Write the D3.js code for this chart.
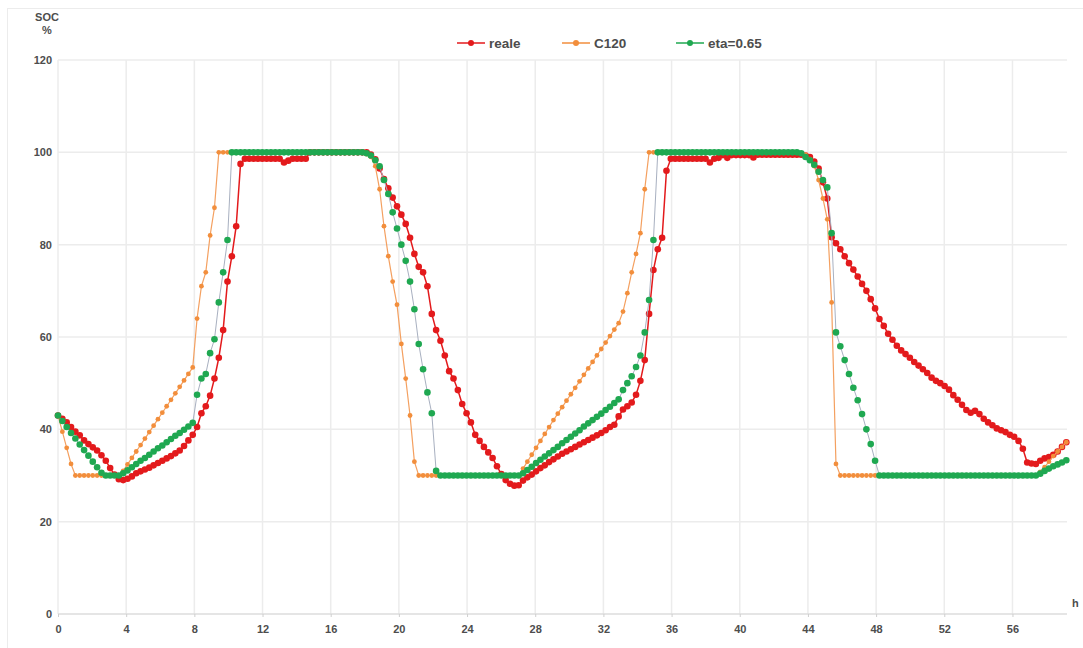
<!DOCTYPE html>
<html><head><meta charset="utf-8">
<script src="https://cdn.jsdelivr.net/npm/d3@7"></script>
<style>html,body{margin:0;padding:0;background:#fff;}svg{display:block;}</style>
</head><body>
<svg id="chart" width="1083" height="648"></svg>
<script>
// sampling interval of the readings (hours)
const stepHours = 0.255;
const xTickLabels = [0, 4, 8, 12, 16, 20, 24, 28, 32, 36, 40, 44, 48, 52, 56];
const yTickLabels = [0, 20, 40, 60, 80, 100, 120];
const seriesNames = ["reale", "C120", "eta=0.65"];

const reale = [
  43, 42.3, 41.5, 40.5, 39.5, 38.7, 37.6, 36.8, 36.1, 35.4, 34.4, 33.2, 31.6, 30.2, 29.2, 29.0,
  29.3, 29.8, 30.5, 30.9, 31.3, 31.7, 32.2, 32.7, 33.2, 33.7, 34.2, 34.8, 35.4, 36.4, 37.6, 38.8,
  40.5, 43.5, 45, 47.3, 51, 55.5, 61.5, 72, 77.5, 84, 97.5, 98.6, 98.6, 98.6, 98.6, 98.6,
  98.6, 98.6, 98.6, 98.6, 97.8, 98.2, 98.6, 98.6, 98.6, 98.6, 100, 100, 100, 100, 100, 100,
  100, 100, 100, 100, 100, 100, 100, 100, 99.5, 98.5, 96.5, 94.2, 92.2, 90.2, 88.3, 86.5,
  84.5, 81.5, 78, 75.2, 74, 71, 65, 61.5, 59.2, 56, 52.6, 51, 48.5, 45.5, 43.5, 41.5,
  38.8, 37.5, 36.2, 35, 33.8, 32, 30.3, 29, 28.2, 27.8, 27.9,
  28.9, 29.6, 30.2, 30.9, 31.6, 32.2, 32.9, 33.5, 34.1, 34.7, 35.2, 35.7, 36.2, 36.7, 37.2, 37.7,
  38.2, 38.7, 39.2, 39.8, 40.5, 41,
  42.8, 44.3, 45, 45.8, 47.5, 50.5, 55, 65, 74.5, 79, 81.5, 96, 98.6, 98.6,
  98.6, 98.6, 98.6, 98.6, 98.6, 98.6, 98.6, 97.8, 98.6, 98.8, 99.4, 98.8, 99.4, 99.4, 99.4, 99.4,
  99.4, 98.9, 99.5, 99.5, 99.5, 99.5, 99.5, 99.5, 99.5, 99.5, 99.5, 99.5, 99.5, 99.3, 99, 98,
  96.5, 93.5, 90, 81.6, 80.3, 79, 77.5, 76, 74.6, 73.1, 71.5, 70, 68.2, 66.2, 63.9, 62.4,
  60.7, 59.4, 58.1, 57.1, 56.3, 55.5, 54.6, 53.8, 53, 52.2, 51.2, 50.5, 50,
  49.4, 48.6, 47.4, 46.4, 45.3, 44.2, 43.6, 44, 43.3, 42.3, 41.5, 40.9, 40.2, 39.8, 39.4, 38.8,
  38.4, 37.5, 35.8, 32.8, 32.6, 32.5, 33.2, 33.7, 34, 34.5, 35.2, 36.2, 37.2
];

const c120 = [
  43, 39.5, 36, 32.5, 30, 30, 30, 30, 30, 30, 30, 30, 30, 30, 30, 31,
  32.4, 33.8, 35.2, 36.6, 38, 39.4, 40.8, 42.2, 43.6, 45, 46.4, 47.8, 49.2, 50.6, 52, 53.4,
  64, 71, 74, 82, 88, 100, 100, 100, 100, 100, 100, 100, 100, 100, 100, 100,
  100, 100, 100, 100, 100, 100, 100, 100, 100, 100, 100, 100, 100, 100, 100, 100,
  100, 100, 100, 100, 100, 100, 100, 99.6, 99, 97, 92, 84, 77.5, 72, 67, 58.5,
  51, 43, 33, 30, 30, 30, 30, 30, 30, 30, 30, 30, 30, 30, 30, 30,
  30, 30, 30, 30, 30, 30, 30, 30, 30, 30, 30,
  31.5, 33, 34.5, 36, 37.5, 39, 40.5, 42, 43.4, 44.8, 46.2, 47.6, 49, 50.4, 51.8, 53.2,
  54.6, 56, 57.4, 58.8, 60.2, 61.6, 63, 65.5,
  69.5, 74, 78, 82.5, 92, 100, 100, 100,
  100, 100, 100, 100, 100, 100, 100, 100, 100, 100, 100, 100, 100, 100, 100, 100,
  100, 100, 100, 100, 100, 100, 100, 100, 100, 100, 100, 100, 100, 100, 100, 100,
  99.8, 99.5, 98.5, 97, 94, 90, 85.5, 67.5, 32.5, 30, 30, 30,
  30, 30, 30, 30, 30, 30, 30, 30, 30, 30, 30, 30, 30, 30, 30, 30,
  30, 30, 30, 30, 30, 30, 30, 30, 30, 30, 30, 30, 30, 30, 30, 30,
  30, 30, 30, 30, 30, 30, 30, 30, 30, 30, 30,
  30.8, 31.8, 33, 34.2, 35.2, 36.2, 37.2
];

const eta065 = [
  43, 41.8, 40.5, 39.2, 38, 36.7, 35.5, 34.3, 33, 31.8, 30.6, 30, 30, 30, 30, 30.5,
  31.1, 31.8, 32.5, 33.2, 33.8, 34.5, 35.2, 35.9, 36.5, 37.2, 37.9, 38.6, 39.2, 39.9, 40.6, 41.4,
  47.5, 51, 52, 56.5, 59.5, 67.5, 74, 81, 100, 100, 100, 100, 100, 100, 100, 100,
  100, 100, 100, 100, 100, 100, 100, 100, 100, 100, 100, 100, 100, 100, 100, 100,
  100, 100, 100, 100, 100, 100, 100, 99.8, 99.3, 98.3, 97, 94, 91, 87, 83.5, 80,
  76.5, 72, 66, 58.5, 53, 48, 43.5, 31, 30, 30, 30, 30, 30, 30, 30, 30,
  30, 30, 30, 30, 30, 30, 30, 30, 30, 30, 30,
  30.5, 31.2, 31.9, 32.7, 33.4, 34.1, 34.8, 35.5, 36.2, 37, 37.7, 38.4, 39.1, 39.8, 40.6, 41.3,
  42, 42.7, 43.4, 44.2, 44.9, 45.7,
  46.5, 48.5, 50, 51.5, 53.5, 56, 61, 68, 81, 100,
  100, 100, 100, 100, 100, 100, 100, 100, 100, 100, 100, 100, 100, 100, 100, 100,
  100, 100, 100, 100, 100, 100, 100, 100, 100, 100, 100, 100, 100, 100, 100, 100,
  99.8, 99, 98.3, 97.3, 95.8, 94, 92.4, 82.5, 61, 58, 55, 52, 49, 46.3, 43.3, 40,
  36.8, 33.2, 30, 30,
  30, 30, 30, 30, 30, 30, 30, 30, 30, 30, 30, 30, 30, 30, 30, 30,
  30, 30, 30, 30, 30, 30, 30, 30, 30, 30, 30, 30, 30, 30, 30, 30,
  30, 30, 30,
  30.4, 31, 31.5, 32, 32.4, 32.8, 33.3
];

const svg = d3.select("#chart");
const W = 1083, H = 648;
const xMax = 59.2;
const x = d3.scaleLinear().domain([0, xMax]).range([58, 1067]);
const y = d3.scaleLinear().domain([0, 120]).range([614, 60]);
const FONT = "'Liberation Sans', Arial, sans-serif";
const TXT = "#4d4d4d";

svg.append("rect").attr("width", W).attr("height", H).attr("fill", "#fff");
// outer frame
svg.append("rect").attr("x", 7.5).attr("y", 8.5).attr("width", W + 20).attr("height", H + 20)
  .attr("fill", "none").attr("stroke", "#ececec").attr("stroke-width", 1);

// grid
const grid = svg.append("g");
grid.selectAll("line.v").data(xTickLabels).join("line")
  .attr("x1", d => x(d)).attr("x2", d => x(d)).attr("y1", y(120)).attr("y2", y(0))
  .attr("stroke", "#ececec").attr("stroke-width", 1.5);
grid.selectAll("line.h").data(yTickLabels).join("line")
  .attr("x1", x(0)).attr("x2", x(xMax)).attr("y1", d => y(d)).attr("y2", d => y(d))
  .attr("stroke", d => d === 0 ? "#dcdcdc" : "#ececec").attr("stroke-width", 1.5);

// axes
const xAxis = d3.axisBottom(x).tickValues(xTickLabels).tickSize(3).tickPadding(8);
const gx = svg.append("g").attr("transform", `translate(0,${y(0)})`).call(xAxis);
gx.select(".domain").remove();
gx.selectAll(".tick line").attr("stroke", "#cfcfcf");
gx.selectAll("text").attr("font-family", FONT).attr("font-size", 11).attr("font-weight", "bold").attr("fill", TXT);

const yAxis = d3.axisLeft(y).tickValues(yTickLabels).tickSize(0).tickPadding(6);
const gy = svg.append("g").attr("transform", `translate(${x(0)},0)`).call(yAxis);
gy.select(".domain").remove();
gy.selectAll("text").attr("font-family", FONT).attr("font-size", 11).attr("font-weight", "bold").attr("fill", TXT);

svg.append("text").attr("x", 47).attr("y", 21).attr("text-anchor", "middle")
  .attr("font-family", FONT).attr("font-size", 11).attr("font-weight", "bold").attr("fill", TXT).text("SOC");
svg.append("text").attr("x", 47).attr("y", 34).attr("text-anchor", "middle")
  .attr("font-family", FONT).attr("font-size", 11).attr("font-weight", "bold").attr("fill", TXT).text("%");
svg.append("text").attr("x", 1072).attr("y", 607).attr("text-anchor", "start")
  .attr("font-family", FONT).attr("font-size", 11).attr("font-weight", "bold").attr("fill", TXT).text("h");

// series
const series = [
  {name: seriesNames[0], values: reale, color: "#e31a1c", line: "#e31a1c", lw: 1.5, r: 3.3},
  {name: seriesNames[1], values: c120, color: "#f28e3c", line: "#f4a060", lw: 1.2, r: 2.4},
  {name: seriesNames[2], values: eta065, color: "#1fa851", line: "#a8b0c0", lw: 1, r: 3.3}
];
const line = d3.line().x((d, i) => x(i * stepHours)).y(d => y(d));
series.forEach(s => {
  const g = svg.append("g");
  g.append("path").attr("d", line(s.values)).attr("fill", "none")
    .attr("stroke", s.line).attr("stroke-width", s.lw);
  g.selectAll("circle").data(s.values).join("circle")
    .attr("cx", (d, i) => x(i * stepHours)).attr("cy", d => y(d)).attr("r", s.r)
    .attr("fill", s.color);
});

// legend
const legendX = [457, 562, 676];
const leg = svg.append("g");
series.forEach((s, i) => {
  const lx = legendX[i];
  leg.append("line").attr("x1", lx).attr("x2", lx + 28).attr("y1", 43).attr("y2", 43)
    .attr("stroke", s.color).attr("stroke-width", 1.5);
  leg.append("circle").attr("cx", lx + 14).attr("cy", 43).attr("r", 3).attr("fill", s.color);
  leg.append("text").attr("x", lx + 32).attr("y", 47.5).attr("font-family", FONT)
    .attr("font-size", 13.5).attr("font-weight", "bold").attr("fill", TXT).text(s.name);
});
</script>
</body></html>
